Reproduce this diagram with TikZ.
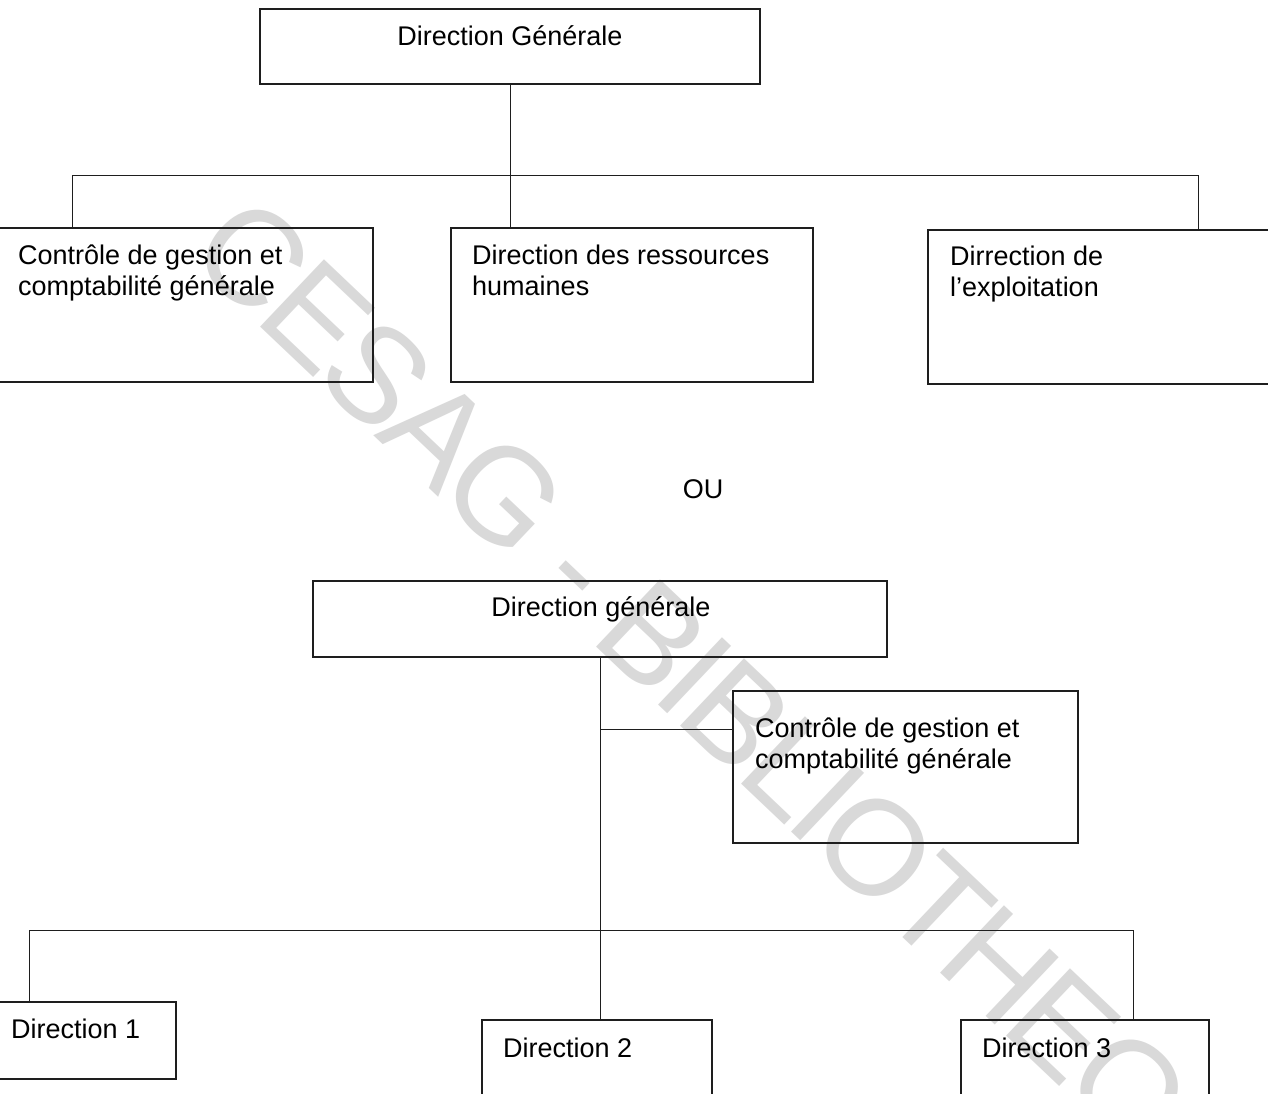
\documentclass[tikz,border=0pt]{standalone}
\usepackage{fontspec}
\setmainfont{Liberation Sans}
\newfontfamily\stampfont{Liberation Sans}[LetterSpace=-4.6]
\usetikzlibrary{calc}
\definecolor{inkline}{RGB}{30,30,30}
\definecolor{stamp}{RGB}{217,217,217}
\begin{document}
\begin{tikzpicture}[x=1pt,y=-1pt,
  orgbox/.style={draw=inkline,line width=1.1pt,inner sep=0pt,outer sep=0pt,anchor=north west},
  conn/.style={draw=inkline,line width=1pt},
  lbl/.style={inner sep=0pt,anchor=base west,align=left,font=\fontsize{27}{30.5}\selectfont},
  stampstyle/.style={text=stamp,inner sep=0pt,font=\stampfont\fontsize{135}{140}\selectfont}]
\useasboundingbox (0,0) rectangle (1268,1093);
\fill[white] (0,0) rectangle (1268,1093);

% library stamp across the page
\node[stampstyle,rotate=-43.5] (stampmark) at (748,743) {CESAG - BIBLIOTHEQUE};

% ---- first organisation chart ----
\node[orgbox,minimum width=500pt,minimum height=75pt] (dg) at (260,9) {};
\node[inner sep=0pt,anchor=base,font=\fontsize{27}{30.5}\selectfont] (dgt) at (510,45) {Direction Générale};

\node[orgbox,minimum width=376pt,minimum height=154pt] (cga) at (-3,228) {};
\node[lbl] (cgat) at (18,295) {Contrôle de gestion et\\comptabilité générale};

\node[orgbox,minimum width=362pt,minimum height=154pt] (drh) at (451,228) {};
\node[lbl] (drht) at (472,295) {Direction des ressources\\humaines};

\node[orgbox,minimum width=350pt,minimum height=154pt] (expl) at (928,230) {};
\node[lbl] (explt) at (950,296) {Dirrection de\\l'exploitation};

\coordinate (busAl) at (72,175);
\coordinate (busAr) at (1198,175);
\draw[conn] (dg.south) -- (dg.south |- drh.north);
\draw[conn] (busAl |- cga.north) -- (busAl) -- (busAr) -- (busAr |- expl.north);

% ---- separator ----
\node[inner sep=0pt,anchor=base,font=\fontsize{27}{30}\selectfont] (ou) at (703,498) {OU};

% ---- second organisation chart ----
\node[orgbox,minimum width=574pt,minimum height=76pt] (dgb) at (313,581) {};
\node[inner sep=0pt,anchor=base,font=\fontsize{27}{30.5}\selectfont] (dgbt) at (601,616) {Direction générale};

\node[orgbox,minimum width=345pt,minimum height=152pt] (cgb) at (733,691) {};
\node[lbl] (cgbt) at (755,768) {Contrôle de gestion et\\comptabilité générale};

\node[orgbox,minimum width=179pt,minimum height=77pt] (da) at (-3,1002) {};
\node[lbl] (dat) at (11,1038) {Direction 1};

\node[orgbox,minimum width=230pt,minimum height=90pt] (db) at (482,1020) {};
\node[lbl] (dbt) at (503,1057) {Direction 2};

\node[orgbox,minimum width=248pt,minimum height=90pt] (dc) at (961,1020) {};
\node[lbl] (dct) at (982,1057) {Direction 3};

\coordinate (tee) at (600,729);
\coordinate (stem) at (dgb.south -| tee);
\coordinate (busBl) at (29,930);
\coordinate (busBr) at (1133,930);
\draw[conn] (stem) -- (stem |- db.north);
\draw[conn] (tee) -- (tee -| cgb.west);
\draw[conn] (busBl |- da.north) -- (busBl) -- (busBr) -- (busBr |- dc.north);
\end{tikzpicture}
\end{document}
